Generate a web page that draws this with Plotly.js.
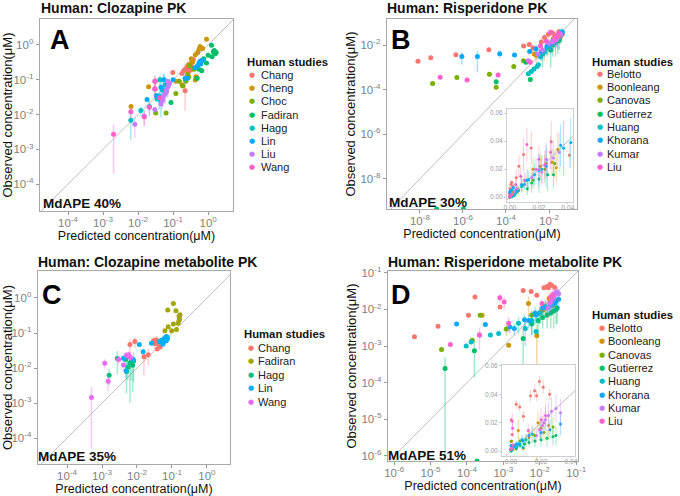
<!DOCTYPE html>
<html><head><meta charset="utf-8">
<script src="https://cdn.plot.ly/plotly-3.0.1.min.js"></script>
<style>html,body{margin:0;padding:0;background:#fff}#chart{width:680px;height:496px}</style>
</head><body><div id="chart"></div>
<script>
// ---------------- DATA ----------------
const studiesA = ['Chang','Cheng','Choc','Fadiran','Hagg','Lin','Liu','Wang'];
const predA = [
  [0.031,0.031,0.098,0.2,0.22,0.25,0.28,0.3,0.33,0.35,0.38,0.27,0.22,0.32,0.18],
  [0.0063,0.02,0.18,0.23,0.43,0.45,0.28,0.43,0.59,0.65,0.9,0.55,0.5,0.33,0.12,0.36,0.7],
  [0.032,0.063,0.12,0.19,0.23,0.28,0.26,0.48,0.4,0.3,0.15],
  [0.087,0.48,0.66,0.9,1.0,1.25,1.4,1.6,1.7,1.5,1.3,0.75,0.55],
  [0.0062,0.012,0.021,0.042,0.04,0.05,0.055,0.045,0.06,0.035],
  [0.018,0.033,0.045,0.054,0.1,0.22,0.26,0.42,0.5,0.55,0.6,0.65,0.58,0.62,0.7],
  [0.0081,0.015,0.03,0.03,0.05,0.055,0.06,0.065,0.07,0.075,0.08,0.065,0.05,0.045,0.07],
  [0.002,0.0062,0.015,0.021,0.03,0.03,0.042]
];
const obsA = [
  [0.09,0.054,0.16,0.18,0.2,0.24,0.21,0.28,0.25,0.33,0.37,0.16,0.048,0.19,0.15],
  [0.017,0.062,0.07,0.095,0.098,0.12,0.27,0.52,0.9,0.8,1.45,0.75,0.6,0.4,0.09,0.32,0.78],
  [0.011,0.011,0.04,0.066,0.09,0.12,0.14,0.11,0.2,0.25,0.09],
  [0.022,0.11,0.18,0.3,0.5,0.97,0.63,0.55,0.6,0.68,0.45,0.4,0.2],
  [0.0068,0.013,0.017,0.1,0.034,0.05,0.1,0.023,0.07,0.028],
  [0.027,0.035,0.06,0.1,0.1,0.11,0.11,0.22,0.25,0.3,0.34,0.35,0.32,0.28,0.36],
  [0.0052,0.009,0.014,0.055,0.03,0.035,0.04,0.05,0.06,0.07,0.08,0.045,0.025,0.02,0.09],
  [0.0027,0.012,0.0085,0.016,0.09,0.054,0.03]
];
const sdA = [
  [0.03,0.03,0,0.04,0,0.06,0,0.05,0,0,0.08,0,0.035,0,0],
  [0,0,0,0,0,0,0,0,0,0,0,0,0,0,0,0,0],
  [0,0,0,0,0,0,0,0,0,0,0],
  [0,0,0,0,0,0,0,0,0,0,0,0,0],
  [0.005,0.004,0.008,0.03,0.02,0.03,0.04,0.015,0.03,0],
  [0,0,0.03,0.05,0,0.03,0,0,0,0,0,0,0,0,0],
  [0.003,0.004,0,0,0.015,0,0.02,0,0.03,0,0,0,0,0,0],
  [0.0025,0.004,0.004,0.006,0.04,0.025,0]
];

const studiesB = ['Belotto','Boonleang','Canovas','Gutierrez','Huang','Khorana','Kumar','Liu'];
const predB = [
  [8.1e-9,3.2e-8,4.7e-7,1.6e-5,6.6e-4,1.2e-3,0.0018,0.0044,0.0062,0.0094,0.0147,0.02,0.0285,0.041],
  [2.1e-3,0.0025,0.006,0.011,0.016,0.021,0.025,0.029,0.033,0.032],
  [3.9e-8,5.2e-7,1.7e-5,2.3e-4,3.5e-5,6.5e-4,0.0045,0.009,0.016,0.024,0.031],
  [6e-8,1.05e-6,3.5e-5,8.5e-4,1.35e-3,0.005,0.012,0.015,0.02,0.026,0.03],
  [1.1e-3,1.5e-3,2.0e-3,2.8e-3,3.2e-3,0.004,0.006,0.008,0.01,0.013,0.017,0.022],
  [8.9e-7,4.7e-6,5.1e-5,2.5e-4,1.26e-3,2.5e-3,0.0045,0.008,0.012,0.02,0.025,0.035,0.037,0.042],
  [1.1e-3,0.003,0.005,0.01,0.015,0.02,0.025,0.03,0.034,0.022],
  [8.7e-8,1.55e-6,4.3e-5,1.35e-3,0.004,0.0075,0.0117,0.018,0.024,0.028]
];
const obsB = [
  [1.9e-3,2.7e-3,3.7e-3,6.2e-3,9.1e-3,0.0107,0.0075,0.0138,0.022,0.0305,0.0352,0.027,0.0395,0.030],
  [4e-3,0.0035,0.005,0.012,0.02,0.022,0.024,0.025,0.034,0.021],
  [1.9e-4,3.5e-4,4.9e-4,1.1e-3,1.3e-4,2.0e-3,0.0055,0.0085,0.012,0.02,0.024],
  [4.5e-10,4.5e-10,2.3e-4,1.7e-3,2.9e-4,0.004,0.006,0.01,0.013,0.016,0.016],
  [5.2e-4,6.6e-4,8.5e-4,1.1e-3,1.3e-3,0.003,0.0048,0.0075,0.009,0.0125,0.016,0.02],
  [3.1e-3,3.1e-3,4.1e-3,3.6e-3,5.2e-3,6.9e-3,0.005,0.009,0.012,0.019,0.022,0.037,0.035,0.039],
  [2e-3,0.004,0.006,0.012,0.014,0.02,0.027,0.028,0.032,0.018],
  [3.6e-4,2.75e-4,4.6e-4,1.7e-3,0.009,0.015,0.0376,0.02,0.023,0.032]
];
const sdB = [
  [0,0,0,0,0,0,0.003,0.006,0.008,0.012,0.012,0.01,0.015,0.009],
  [0,0.002,0.003,0.005,0.008,0.009,0.01,0.01,0.012,0.01],
  [0,0,0,0,0,0,0.003,0.005,0.006,0.01,0.01],
  [0,0,0,0,0,0.003,0.005,0.007,0.01,0.012,0.01],
  [0,0,0,0,0,0.001,0.002,0.003,0.004,0.006,0.008,0.01],
  [1.8e-3,2.5e-3,1.5e-3,0,0,3e-3,0.003,0.006,0.008,0.012,0.015,0.015,0.02,0.018],
  [0,0.002,0.003,0.006,0.008,0.01,0.012,0.012,0.014,0.01],
  [0,0,0,0,0.004,0.006,0.012,0.008,0.01,0.012]
];

const studiesC = ['Chang','Fadiran','Hagg','Lin','Wang'];
const predC = [
  [6.3e-3,8.7e-3,0.0158,0.021,0.033,0.036,0.04,0.042,0.044,0.046,0.038,0.03],
  [0.11,0.076,0.13,0.16,0.165,0.16,0.15,0.135,0.098,0.078,0.11,0.063,0.17],
  [1.6e-3,2.75e-3,4.8e-3,6.3e-3,6.8e-3,5.0e-3,7.5e-3,8e-3,5.5e-3],
  [4.1e-3,4.9e-3,7.8e-3,0.0117,0.015,0.026,0.045,0.05,0.06,0.063,0.066,0.07,0.072,0.075,0.068,0.058,0.055],
  [5.0e-4,1.2e-3,1.5e-3,3.0e-3,4.1e-3,5.0e-3,5.8e-3,6.5e-3]
];
const obsC = [
  [0.047,0.057,0.021,0.024,0.05,0.063,0.056,0.05,0.045,0.04,0.035,0.06],
  [0.7,0.45,0.43,0.3,0.25,0.23,0.19,0.126,0.115,0.15,0.18,0.115,0.33],
  [6.2e-3,0.0186,0.0174,0.014,0.0145,0.0079,0.012,0.016,0.0105],
  [0.019,0.0083,0.0174,0.047,0.029,0.051,0.057,0.062,0.07,0.066,0.075,0.08,0.065,0.072,0.06,0.055,0.048],
  [1.45e-3,0.0138,4.2e-3,0.0175,0.0123,0.023,0.024,0.02]
];
const sdC = [
  [0.02,0.02,0.015,0.012,0.015,0.02,0.015,0,0.01,0,0,0.02],
  [0,0,0,0,0,0,0,0,0,0,0,0,0],
  [0.003,0.012,0.01,0.013,0.01,0.006,0.01,0.012,0.006],
  [0.004,0.003,0,0,0,0,0,0,0,0,0,0,0,0,0,0,0],
  [1.4e-3,0.004,2e-3,0.005,0.004,0.006,0.006,0.005]
];

const studiesD = ['Belotto','Boonleang','Canovas','Gutierrez','Huang','Khorana','Kumar','Liu'];
const predD = [
  [3.6e-6,1.6e-5,1.1e-4,1.66e-4,8.1e-4,3.5e-3,5.8e-3,8.3e-3,0.013,0.0158,0.019,0.0215,0.0258,0.0171],
  [2.6e-4,1.4e-3,4.9e-3,8.3e-3,0.0147,0.012,0.02,0.025,0.018],
  [2e-5,1.4e-4,2.3e-4,1.2e-3,0.006,0.01,0.016,0.022,0.028],
  [2.5e-5,1.9e-4,1.6e-4,3.5e-3,6e-3,0.009,0.012,0.016,0.02,0.024,0.028,0.03],
  [9.5e-5,1.3e-4,4.4e-4,7.4e-4,2.6e-3,7.9e-3,0.004,0.006,0.01,0.014],
  [5.2e-5,3.2e-4,1.5e-3,3.8e-3,7.4e-3,0.012,0.02,0.026,0.033,0.002,0.005,0.008],
  [2.2e-4,0.017,0.019,0.021,0.023,0.025,0.027,0.03,0.033,0.022],
  [3.5e-5,2.2e-4,1.05e-3,1.4e-3,0.0115,0.02,0.023,0.0008]
];
const obsD = [
  [1.8e-3,3.5e-3,6.9e-3,0.022,0.0117,0.033,0.031,0.0245,0.039,0.0426,0.049,0.045,0.040,0.039],
  [6.9e-3,1.05e-3,0.0145,1.9e-3,0.0117,0.0095,0.016,0.018,0.02],
  [8.1e-4,1.45e-3,6.9e-3,2.9e-3,0.007,0.008,0.011,0.013,0.017],
  [2.45e-4,7.2e-7,7.4e-4,1.6e-3,4e-3,5e-3,6e-3,7e-3,8e-3,9e-3,0.01,0.011],
  [1e-3,1.3e-3,2e-3,2.2e-3,4.2e-3,2.5e-3,0.003,0.005,0.008,0.012],
  [4e-3,3.9e-3,3.3e-3,5.2e-3,7.9e-3,0.011,0.013,0.015,0.019,0.003,0.005,0.007],
  [2e-3,0.011,0.015,0.018,0.022,0.025,0.028,0.03,0.027,0.02],
  [1.1e-3,2e-3,0.016,4.2e-3,0.0145,0.022,0.025,0.021]
];
const sdD = [
  [0,0,0,0,0,0.003,0.003,0.004,0.004,0.005,0.004,0.005,0.004,0.004],
  [0,0,0.008,0.002,0.006,0.004,0.008,0.01,0.008],
  [0,0,0,0.001,0.003,0.004,0.005,0.006,0.007],
  [2.5e-4,0,6e-4,1.3e-3,0.002,0.003,0.003,0.004,0.005,0.006,0.006,0.007],
  [0,0,0,0,0.002,0,0.002,0.003,0.004,0.006],
  [0,0,0.001,0.002,0.004,0.005,0.006,0.007,0.008,0.001,0.002,0.003],
  [0,0.005,0.006,0.007,0.008,0.009,0.01,0.01,0.01,0.008],
  [0,0.0012,0.006,0.002,0.005,0.008,0.009,0.006]
];

const mdapeA = '40%', mdapeB = '30%', mdapeC = '35%', mdapeD = '51%';
const titles = ['Human: Clozapine PK','Human: Risperidone PK','Human: Clozapine metabolite PK','Human: Risperidone metabolite PK'];
const tickExpA = [-4,-3,-2,-1,0];
const tickExpB = [-8,-6,-4,-2];
const tickExpC = [-4,-3,-2,-1,0];
const tickExpD = [-6,-5,-4,-3,-2,-1];
const insetXTicks = [0,0.02,0.04];
const insetXLabels = ['0.00','0.02','0.04'];
const insetYTicks = [0,0.02,0.04,0.06];
const insetYLabels = ['0.00','0.02','0.04','0.06'];

// ---------------- STYLE ----------------
const col8 = ['#F8766D','#CD9600','#7CAE00','#00BE67','#00BFC4','#00A9FF','#C77CFF','#FF61CC'];
const col5 = ['#F8766D','#A3A500','#00BF7D','#00B0F6','#E76BF3'];
const W = 680, H = 496;
const FONT = 'Liberation Sans, Arial, sans-serif';
function rgba(hex, a){const n=parseInt(hex.slice(1),16);return `rgba(${n>>16},${(n>>8)&255},${n&255},${a})`;}
const px = v => v / W;
const py = v => 1 - v / H;

const traces = [];
function diag(xa, ya, lo, hi){
  traces.push({type:'scatter',mode:'lines',x:[lo,hi],y:[lo,hi],xaxis:xa,yaxis:ya,
    line:{color:'#bdbdbd',width:1},showlegend:false,hoverinfo:'skip'});
}
function panel(xa, ya, names, pred, obs, sd, cols, ms, ebw){
  names.forEach((n,i)=>{
    traces.push({type:'scatter',mode:'markers',name:n,x:pred[i],y:obs[i],xaxis:xa,yaxis:ya,
      marker:{color:cols[i],size:ms},
      error_y:{type:'data',array:sd[i],visible:true,color:rgba(cols[i],0.35),thickness:ebw,width:0},
      showlegend:false,hoverinfo:'skip',cliponaxis:true});
  });
}
const rA = {x:[-4.8,0.71], y:[-4.77,0.74]};
const rB = {x:[-9.53,-0.7], y:[-9.35,-0.83]};
const rC = {x:[-4.83,0.66], y:[-4.74,0.77]};
const rD = {x:[-6.17,-0.95], y:[-6.14,-0.95]};
diag('x','y',1e-12,1e2); panel('x','y',studiesA,predA,obsA,sdA,col8,5,1.5);
diag('x2','y2',1e-12,1e2); panel('x2','y2',studiesB,predB,obsB,sdB,col8,5,1.5);
diag('x3','y3',1e-12,1e2); panel('x3','y3',studiesC,predC,obsC,sdC,col5,5,1.5);
diag('x4','y4',1e-12,1e2); panel('x4','y4',studiesD,predD,obsD,sdD,col8,5,1.5);
diag('x5','y5',-0.01,0.1); panel('x5','y5',studiesB,predB,obsB,sdB,col8,3,1);
diag('x6','y6',-0.01,0.1); panel('x6','y6',studiesD,predD,obsD,sdD,col8,3,1);

const lineCol = '#a8a8a8';
function logAx(dom, rng, exps, anchor, title, isY){
  const a = {type:'log',domain:dom,range:rng,anchor:anchor,
    tickvals:exps.map(e=>Math.pow(10,e)),ticktext:exps.map(e=>'10<sup>'+e+'</sup>'),
    ticks:'outside',ticklen:3,tickwidth:1,tickcolor:'#999',
    tickfont:{family:FONT,size:11.5,color:'#7f7f7f'},
    showline:true,mirror:true,linecolor:lineCol,linewidth:1.3,showgrid:false,zeroline:false,
    title:{text:title,font:{family:FONT,size:isY?13:12.5,color:'#111'},standoff:2}};
  if(!isY) a.ticklabelstandoff = -2;
  return a;
}
function linAx(dom, rng, vals, labels, anchor, isX){
  const a = {domain:dom,range:rng,anchor:anchor,tickvals:vals,ticktext:labels,
    ticks:'outside',ticklen:2,tickwidth:0.8,tickcolor:'#bbb',
    tickfont:{family:FONT,size:6.5,color:'#999'},
    showline:true,mirror:true,linecolor:'#cfcfcf',linewidth:1,showgrid:false,zeroline:false};
  if(isX){ a.ticklen = 1; a.ticklabelstandoff = -2; }
  return a;
}
const XT = 'Predicted concentration(μM)', YT = 'Observed concentration(μM)';

const layout = {
  width:W,height:H,margin:{l:0,r:0,t:0,b:0},paper_bgcolor:'#fff',plot_bgcolor:'#fff',
  showlegend:false,font:{family:FONT},
  xaxis: logAx([px(40),px(233)], rA.x, tickExpA,'y',XT,false),
  yaxis: logAx([py(211),py(19)], rA.y, tickExpA,'x',YT,true),
  xaxis2: logAx([px(387),px(577)], rB.x, tickExpB,'y2',XT,false),
  yaxis2: logAx([py(209),py(19)], rB.y, tickExpB,'x2',YT,true),
  xaxis3: logAx([px(38),px(230)], rC.x, tickExpC,'y3',XT,false),
  yaxis3: logAx([py(464),py(271)], rC.y, tickExpC,'x3',YT,true),
  xaxis4: logAx([px(388),px(578)], rD.x, tickExpD,'y4',XT,false),
  yaxis4: logAx([py(461),py(271)], rD.y, tickExpD,'x4',YT,true),
  xaxis5: linAx([px(507),px(573)],[-0.002,0.0435],insetXTicks,insetXLabels,'y5',true),
  yaxis5: linAx([py(202),py(109)],[-0.0035,0.063],insetYTicks,insetYLabels,'x5',false),
  xaxis6: linAx([px(502),px(575)],[-0.006,0.0427],insetXTicks,insetXLabels,'y6',true),
  yaxis6: linAx([py(456),py(365)],[-0.0035,0.0607],insetYTicks,insetYLabels,'x6',false),
  annotations:[]
};

const ann = layout.annotations;
function txt(x,y,text,size,opts){
  ann.push(Object.assign({xref:'paper',yref:'paper',x:px(x),y:py(y),text:text,showarrow:false,
    xanchor:'left',yanchor:'middle',font:{family:FONT,size:size,color:'#111'},borderpad:0},opts||{}));
}
// panel titles
txt(40,8,'<b>'+titles[0]+'</b>',14);
txt(386,8,'<b>'+titles[1]+'</b>',14);
txt(37,262,'<b>'+titles[2]+'</b>',14);
txt(387,262,'<b>'+titles[3]+'</b>',14);
// letters
txt(60,40,'<b>A</b>',27,{xanchor:'center',font:{family:FONT,size:27,color:'#000'}});
txt(401,40,'<b>B</b>',27,{xanchor:'center',font:{family:FONT,size:27,color:'#000'}});
txt(52,295,'<b>C</b>',27,{xanchor:'center',font:{family:FONT,size:27,color:'#000'}});
txt(401,295,'<b>D</b>',27,{xanchor:'center',font:{family:FONT,size:27,color:'#000'}});
// MdAPE
txt(42,203,'<b>MdAPE '+mdapeA+'</b>',13.5);
txt(388,202,'<b>MdAPE '+mdapeB+'</b>',13.5);
txt(37,456,'<b>MdAPE '+mdapeC+'</b>',13.5);
txt(387,455,'<b>MdAPE '+mdapeD+'</b>',13.5);
// legends
function legend(names, cols, tx, ty, mx, textx, y0, step){
  txt(tx,ty,'<b>Human studies</b>',11.3);
  names.forEach((n,i)=>{
    const y = y0 + i*step;
    txt(mx,y,'●',7,{xanchor:'center',font:{family:'DejaVu Sans',size:7,color:cols[i]}});
    txt(textx,y,n,11,{font:{family:FONT,size:11,color:'#222'}});
  });
}
legend(studiesA,col8,246,62,252,260,75,13.2);
legend(studiesB,col8,591,62,600,606,73.5,13.4);
legend(studiesC,col5,243,334,251,257,347.5,13.6);
legend(studiesD,col8,591,315,602,607,328,13.3);

Plotly.newPlot('chart',traces,layout,{staticPlot:true});
</script></body></html>
